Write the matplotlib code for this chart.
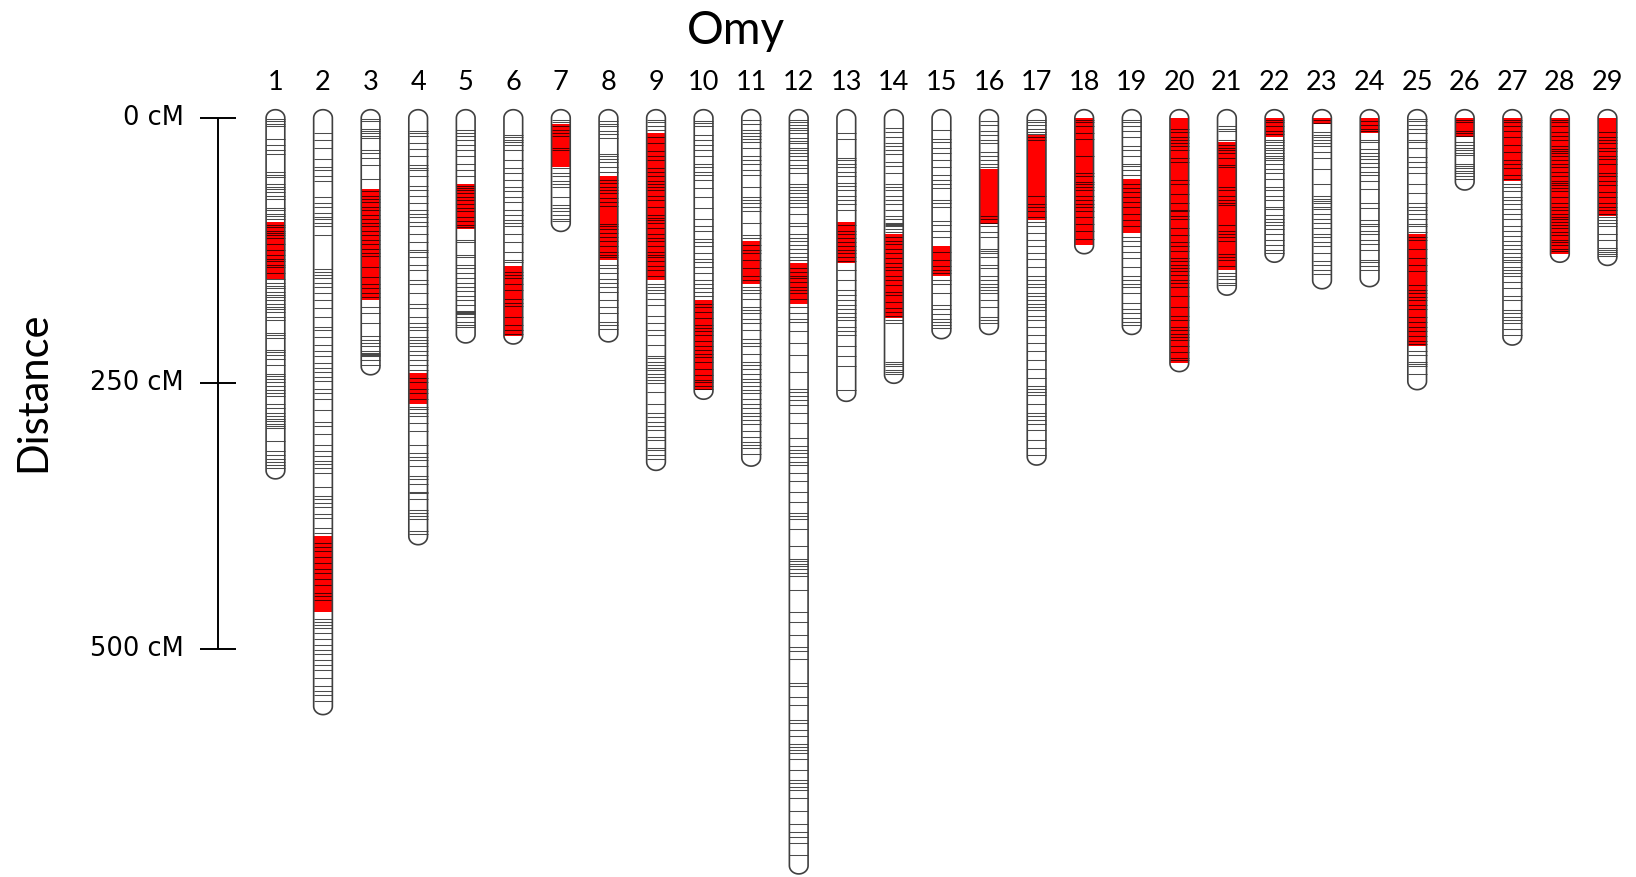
import numpy as np
import matplotlib.pyplot as plt
from matplotlib.path import Path
from matplotlib.patches import PathPatch, Rectangle

# linkage groups, lengths (cM) and highlighted block on each group
chrom_labels = [str(i) for i in range(1, 30)]
chrom_lengths = [332, 554, 234, 394, 204, 205, 99, 203, 324, 257, 320, 704, 259, 242, 200,
                 196, 319, 120, 196, 231, 159, 128, 153, 151, 248, 60, 206, 128, 131]
red_start = [98, 394, 67, 240, 62, 139, 6, 55, 14, 171, 116, 137, 98, 109, 121,
             48, 16, 0, 57, 0, 23, 0, 0, 0, 109, 0, 0, 0, 0]
red_end = [152, 465, 171, 269, 105, 205, 46, 134, 153, 256, 156, 175, 137, 188, 149,
           100, 96, 120, 108, 231, 143, 18, 6, 14, 215, 18, 59, 128, 92]

# marker positions (cM) on each linkage group
chr1_markers = [1, 3, 6, 8, 20, 25, 30, 34, 51, 54, 56, 62, 65, 67, 70, 73, 76, 85, 87, 90, 92, 95,
                101, 103, 106, 108, 110, 113, 119, 124, 129, 133, 135, 138, 140, 146, 152, 155, 158,
                160, 164, 167, 169, 171, 175, 178, 180, 183, 187, 190, 202, 204, 207, 218, 220, 223,
                227, 233, 241, 243, 246, 249, 252, 256, 259, 262, 269, 273, 278, 281, 283, 285, 288,
                290, 292, 304, 314, 317, 321, 324, 327, 330]
chr2_markers = [14, 21, 28, 39, 46, 49, 55, 59, 74, 80, 84, 89, 93, 95, 99, 102, 110, 142, 145, 148,
                151, 155, 159, 165, 171, 179, 187, 197, 200, 206, 214, 219, 224, 231, 235, 239, 244,
                248, 255, 259, 265, 275, 286, 290, 298, 308, 314, 318, 323, 326, 330, 334, 347, 356,
                359, 363, 366, 373, 377, 386, 391, 400, 404, 408, 413, 419, 425, 428, 434, 440, 447,
                450, 454, 472, 475, 477, 480, 485, 491, 496, 501, 505, 510, 515, 520, 527, 535, 540,
                543, 549]
chr3_markers = [1, 3, 10, 12, 14, 17, 19, 30, 33, 38, 44, 57, 69, 73, 76, 79, 84, 87, 91, 95, 99,
                102, 106, 110, 115, 119, 123, 127, 130, 140, 150, 156, 160, 165, 169, 178, 184, 193,
                205, 209, 212, 215, 219, 221, 222, 223, 224, 228, 233]
chr4_markers = [12, 14, 17, 24, 29, 36, 44, 47, 49, 55, 64, 68, 73, 80, 87, 90, 93, 98, 102, 109,
                117, 124, 126, 131, 138, 143, 153, 156, 165, 175, 179, 187, 193, 197, 200, 206, 209,
                212, 215, 219, 223, 228, 233, 237, 245, 249, 255, 259, 265, 272, 274, 278, 281, 287,
                295, 308, 315, 319, 322, 328, 337, 340, 345, 352, 353, 359, 369, 372, 375, 378, 389,
                392]
chr5_markers = [11, 14, 17, 21, 25, 30, 36, 43, 49, 55, 64, 66, 68, 71, 74, 77, 81, 85, 88, 93, 97,
                101, 103, 115, 117, 129, 131, 138, 141, 146, 151, 155, 159, 163, 168, 171, 176, 182,
                183, 184, 185, 187, 192, 195, 197]
chr6_markers = [16, 18, 21, 23, 25, 30, 40, 47, 52, 58, 65, 69, 74, 79, 87, 91, 96, 99, 102, 109,
                117, 126, 134, 136, 145, 148, 151, 156, 162, 170, 174, 177, 187, 195, 200, 203]
chr7_markers = [2, 4, 8, 11, 14, 17, 28, 30, 47, 52, 55, 59, 62, 65, 74, 82, 85, 88, 91, 95, 97]
chr8_markers = [3, 6, 8, 12, 15, 19, 34, 36, 39, 41, 46, 51, 58, 61, 65, 68, 71, 75, 79, 83, 100,
                102, 105, 108, 112, 116, 121, 126, 129, 131, 138, 141, 146, 152, 155, 159, 164, 171,
                178, 184, 192, 195, 199]
chr9_markers = [2, 4, 8, 11, 18, 24, 31, 36, 40, 47, 51, 55, 59, 62, 65, 68, 73, 77, 84, 91, 94, 96,
                99, 104, 109, 113, 116, 121, 126, 129, 131, 135, 139, 143, 149, 156, 159, 162, 165,
                170, 176, 186, 193, 200, 204, 214, 224, 226, 230, 233, 235, 237, 241, 244, 247, 250,
                258, 269, 278, 282, 286, 290, 294, 300, 303, 311, 313, 317, 321]
chr10_markers = [3, 5, 8, 16, 21, 25, 30, 36, 43, 46, 51, 54, 58, 66, 74, 85, 95, 102, 106, 114,
                 117, 121, 127, 133, 136, 140, 146, 153, 156, 160, 164, 168, 175, 178, 183, 188, 195,
                 198, 201, 204, 210, 215, 218, 222, 225, 230, 236, 242, 247, 249, 252, 255]
chr11_markers = [2, 6, 11, 14, 17, 20, 23, 28, 36, 40, 43, 49, 54, 65, 74, 77, 80, 84, 88, 99, 110,
                 113, 120, 124, 127, 134, 141, 149, 153, 159, 162, 165, 170, 178, 181, 184, 189, 193,
                 200, 208, 212, 215, 222, 230, 233, 236, 241, 246, 249, 252, 256, 259, 265, 269, 273,
                 278, 281, 284, 288, 295, 300, 305, 308, 311, 316]
chr12_markers = [2, 4, 7, 9, 11, 14, 19, 22, 24, 28, 30, 33, 36, 40, 44, 47, 52, 62, 65, 68, 71, 74,
                 77, 80, 84, 90, 99, 102, 109, 113, 116, 120, 123, 127, 131, 134, 141, 145, 149, 151,
                 154, 159, 162, 165, 170, 178, 184, 189, 192, 201, 212, 223, 239, 255, 258, 262, 266,
                 270, 278, 287, 301, 309, 313, 315, 319, 324, 327, 334, 342, 352, 362, 372, 375, 378,
                 387, 403, 415, 417, 420, 422, 425, 428, 431, 444, 465, 475, 487, 498, 502, 509, 532,
                 535, 545, 553, 567, 570, 576, 582, 589, 592, 595, 598, 604, 614, 623, 626, 630, 633,
                 640, 653, 665, 672, 677, 683, 694]
chr13_markers = [14, 20, 38, 40, 43, 46, 51, 55, 61, 64, 68, 73, 77, 81, 87, 101, 106, 109, 113,
                 117, 121, 124, 127, 131, 135, 143, 153, 162, 167, 171, 176, 180, 184, 187, 190, 197,
                 201, 204, 215, 224, 234, 256]
chr14_markers = [9, 13, 18, 24, 26, 30, 34, 41, 45, 52, 62, 65, 68, 73, 77, 81, 87, 92, 95, 99, 100,
                 101, 102, 105, 107, 112, 116, 119, 123, 127, 132, 137, 140, 143, 149, 153, 157, 164,
                 167, 173, 179, 183, 186, 190, 193, 230, 232, 234, 237, 239, 241]
chr15_markers = [11, 20, 23, 28, 33, 40, 46, 54, 58, 62, 66, 77, 80, 84, 97, 101, 106, 112, 126, 134,
                 139, 143, 146, 153, 156, 165, 176, 180, 185, 189, 192, 195, 198]
chr16_markers = [3, 7, 12, 16, 21, 24, 32, 36, 40, 43, 46, 92, 95, 99, 102, 107, 112, 123, 125, 127,
                 131, 138, 141, 149, 153, 156, 159, 162, 165, 171, 178, 187, 190, 193]
chr17_markers = [2, 4, 7, 10, 13, 15, 18, 21, 73, 81, 84, 88, 93, 98, 102, 108, 115, 121, 127, 133,
                 140, 149, 153, 156, 159, 165, 168, 171, 175, 178, 181, 186, 190, 197, 204, 212, 219,
                 228, 236, 245, 252, 255, 258, 261, 269, 278, 281, 284, 288, 294, 303, 311, 317]
chr18_markers = [2, 4, 8, 14, 20, 36, 52, 55, 60, 62, 65, 68, 73, 77, 81, 84, 88, 93, 100, 106, 114]
chr19_markers = [2, 4, 8, 12, 18, 26, 30, 36, 43, 45, 49, 54, 62, 66, 70, 74, 79, 84, 90, 96, 102,
                 112, 116, 121, 126, 132, 140, 149, 153, 156, 159, 165, 174, 180, 184, 188, 192, 195]
chr20_markers = [10, 13, 18, 21, 24, 26, 30, 38, 41, 58, 62, 72, 80, 87, 88, 92, 95, 104, 110, 117,
                 121, 125, 132, 135, 138, 141, 144, 148, 153, 155, 159, 168, 178, 186, 190, 197, 200,
                 203, 206, 209, 215, 220, 226, 228]
chr21_markers = [8, 10, 12, 21, 25, 28, 30, 33, 38, 44, 46, 65, 68, 73, 77, 80, 82, 101, 106, 109,
                 112, 116, 128, 131, 134, 139, 146, 149, 152, 155, 157]
chr22_markers = [2, 4, 8, 12, 15, 21, 23, 25, 28, 30, 33, 36, 38, 40, 43, 48, 52, 57, 65, 68, 73, 77,
                 84, 86, 91, 95, 98, 101, 105, 109, 115, 120, 124, 127]
chr23_markers = [2, 5, 13, 16, 18, 21, 24, 26, 32, 38, 48, 62, 73, 76, 78, 80, 84, 86, 90, 95, 99,
                 104, 109, 112, 117, 121, 127, 135, 138, 143, 147]
chr24_markers = [3, 7, 10, 12, 21, 23, 29, 33, 36, 39, 42, 46, 51, 54, 59, 67, 80, 85, 96, 100, 102,
                 106, 109, 115, 119, 124, 134, 136, 139, 143]
chr25_markers = [1, 3, 7, 10, 14, 21, 23, 28, 37, 41, 46, 52, 62, 71, 80, 84, 87, 90, 95, 100, 102,
                 107, 112, 115, 123, 132, 138, 144, 157, 162, 165, 169, 171, 176, 180, 187, 192, 197,
                 201, 205, 210, 213, 219, 223, 230, 232, 234, 241]
chr26_markers = [2, 4, 12, 14, 17, 23, 25, 28, 30, 33, 35, 43, 45, 47, 50, 52, 55, 57]
chr27_markers = [2, 4, 8, 12, 18, 25, 32, 40, 43, 47, 54, 57, 62, 65, 69, 74, 77, 81, 86, 90, 95,
                 102, 106, 111, 116, 120, 123, 127, 131, 134, 136, 140, 143, 146, 149, 154, 160, 168,
                 171, 181, 184, 187, 190, 193, 199, 204]
chr28_markers = [2, 4, 8, 13, 17, 21, 26, 29, 31, 33, 36, 40, 43, 46, 51, 55, 59, 61, 63, 66, 69, 74,
                 80, 84, 87, 90, 93, 95, 98, 101, 104, 107, 110, 115, 117, 120, 123, 125]
chr29_markers = [13, 18, 21, 24, 28, 31, 36, 39, 43, 52, 55, 59, 63, 70, 74, 80, 84, 87, 90, 93, 96,
                 99, 102, 109, 115, 122, 124, 126, 128, 130]

markers = [chr1_markers, chr2_markers, chr3_markers, chr4_markers, chr5_markers, chr6_markers,
           chr7_markers, chr8_markers, chr9_markers, chr10_markers, chr11_markers, chr12_markers,
           chr13_markers, chr14_markers, chr15_markers, chr16_markers, chr17_markers,
           chr18_markers, chr19_markers, chr20_markers, chr21_markers, chr22_markers,
           chr23_markers, chr24_markers, chr25_markers, chr26_markers, chr27_markers,
           chr28_markers, chr29_markers]

scale_ticks = [0, 250, 500]

# layout (x in linkage-group slots, y in cM)
BAR_W = 0.393   # width of one linkage group
CAP_H = 7.8     # height of the rounded ends, cM


def capsule_path(cx, length):
    t = np.linspace(np.pi, 0, 30)
    top = np.column_stack([cx + BAR_W / 2 * np.cos(t), -CAP_H * np.sin(t)])
    t = np.linspace(0, np.pi, 30)
    bot = np.column_stack([cx + BAR_W / 2 * np.cos(t), length + CAP_H * np.sin(t)])
    verts = np.vstack([top, bot, top[:1]])
    codes = [Path.MOVETO] + [Path.LINETO] * (len(verts) - 2) + [Path.CLOSEPOLY]
    return Path(verts, codes)


fig = plt.figure(figsize=(16.36, 8.77), dpi=100)
ax = fig.add_axes([0, 0, 1, 1])
ax.set_xlim(-4.79, 29.6)
ax.set_ylim(714.7, -111.1)
ax.axis("off")

for i, label in enumerate(chrom_labels):
    cx = i + 1
    length = chrom_lengths[i]
    path = capsule_path(cx, length)
    ax.add_patch(PathPatch(path, facecolor="white", edgecolor="none", zorder=1))
    ax.add_patch(Rectangle((cx - BAR_W / 2, red_start[i]), BAR_W, red_end[i] - red_start[i],
                           facecolor="#ff0000", edgecolor="none", zorder=2))
    ax.hlines(markers[i], cx - BAR_W / 2, cx + BAR_W / 2, color="black", alpha=0.7,
              linewidth=0.75, zorder=3)
    ax.add_patch(PathPatch(path, facecolor="none", edgecolor="#404040", linewidth=1.2, zorder=4))
    ax.text(cx, -33, label, ha="center", va="center", fontsize=19.5, family="Lato")

# distance scale bar
bar_x = -0.21
ax.vlines(bar_x, scale_ticks[0], scale_ticks[-1], color="black", linewidth=1.4)
ax.hlines(scale_ticks, bar_x - 0.38, bar_x + 0.38, color="black", linewidth=1.4)
for v in scale_ticks:
    ax.text(bar_x - 0.72, v, f"{v} cM", ha="right", va="center", fontsize=18.5,
            family="DejaVu Sans")

fig.text(736 / 1636, 1 - 31 / 877, "Omy", ha="center", va="center", fontsize=33, family="Lato")
fig.text(33 / 1636, 1 - 392 / 877, "Distance", ha="center", va="center", rotation=90,
         fontsize=30, family="Lato")

plt.savefig("out.png", dpi=100)
